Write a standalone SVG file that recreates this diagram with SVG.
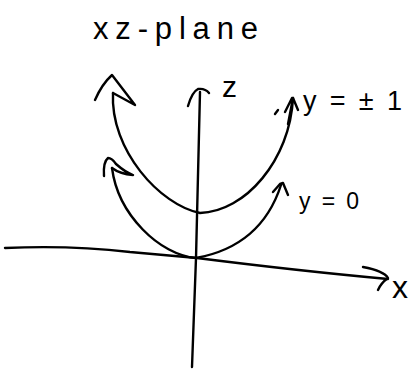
<svg xmlns="http://www.w3.org/2000/svg" width="414" height="369" viewBox="0 0 414 369">
<style>
.s{fill:none;stroke:#000;stroke-width:2.4;stroke-linecap:round;stroke-linejoin:round}
.t{font-family:"Liberation Sans",Arial,sans-serif;fill:#000}
</style>
<rect width="414" height="369" fill="#fff"/>
<g id="axes">
<path class="s" d="M5,248 Q 70,245 130,252 L 197,258 Q 300,271 388,279"/>
<path class="s" d="M363,267 Q 384,271 388,278 Q 381,283 378,290"/>
<path class="s" d="M200,92 L 196,258 L 192,367"/>
<path class="s" d="M188,106 Q 192,92 198,89 Q 205,88 209,93"/>
</g>
<g id="curves">
<path class="s" d="M113,93 C 110,150 160,205 200,213 C 245,212 290,160 293,98"/>
<path class="s" d="M95,100 Q 102,84 112,75 L 135,105 L 113,93"/>
<path class="s" d="M288,124 L 293,98 L 298,110 M 285,112 L 292,98"/>
<path class="s" d="M275,114 L 278,110"/>
<path class="s" d="M112,168 C 118,215 160,255 196,258 C 240,250 268,225 281,185"/>
<path class="s" d="M104,176 Q 103,162 108,158 Q 112,158 116,164 Q 125,172 133,175 Q 120,174 112,168"/>
<path class="s" d="M273,192 L 280,184 L 283,183 L 288,195"/>
</g>
<g id="labels">
<text class="t" x="93" y="39" font-size="31" textLength="165" lengthAdjust="spacing">xz-plane</text>
<text class="t" x="222" y="97" font-size="30">z</text>
<text class="t" x="303" y="110" font-size="27" textLength="99" lengthAdjust="spacing">y = ± 1</text>
<text class="t" x="299" y="209" font-size="23" textLength="60" lengthAdjust="spacing">y = 0</text>
<text class="t" x="392" y="298" font-size="32">x</text>
</g>
</svg>
